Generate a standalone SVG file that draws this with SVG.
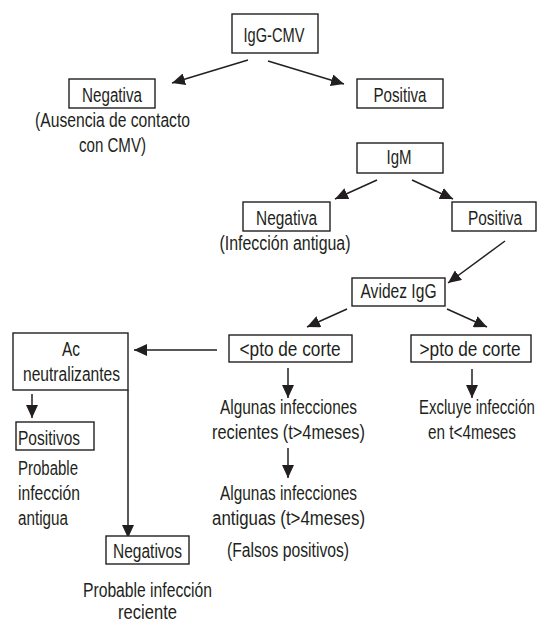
<svg xmlns="http://www.w3.org/2000/svg" width="537" height="622" viewBox="0 0 537 622">
<style>
.b{fill:#fff;stroke:#231f20;stroke-width:1.4}
.t{font-family:"Liberation Sans",Arial,sans-serif;font-size:21px;fill:#231f20;text-anchor:middle}
.l{text-anchor:start}
.c{stroke:#231f20;stroke-width:1.5;fill:none;marker-end:url(#a)}
</style>
<defs>
<marker id="a" markerUnits="userSpaceOnUse" markerWidth="14" markerHeight="12" refX="13" refY="6" orient="auto">
<path d="M0,0 L13,6 L0,12 z" fill="#231f20"/>
</marker>
</defs>
<g id="connectors">
<line class="c" x1="248" y1="60" x2="172" y2="83"/>
<line class="c" x1="268" y1="61" x2="344" y2="84"/>
<line class="c" x1="377" y1="180" x2="335" y2="199"/>
<line class="c" x1="412" y1="180" x2="453" y2="199"/>
<line class="c" x1="505" y1="241" x2="448" y2="283"/>
<line class="c" x1="347" y1="309" x2="307" y2="327"/>
<line class="c" x1="447" y1="309" x2="487" y2="327"/>
<line class="c" x1="217" y1="350" x2="134" y2="350"/>
<line class="c" x1="288" y1="368" x2="288" y2="398"/>
<line class="c" x1="288" y1="448" x2="288" y2="478"/>
<line class="c" x1="472" y1="369" x2="472" y2="398"/>
<line class="c" x1="32" y1="394" x2="32" y2="418"/>
<line class="c" x1="128" y1="390" x2="128" y2="538"/>
</g>
<g id="igg-cmv"><rect class="b" x="232" y="14" width="86" height="39"/><text class="t" transform="translate(274 42) scale(0.84 1)" textLength="72.6" lengthAdjust="spacingAndGlyphs">IgG-CMV</text></g>
<g id="negativa1"><rect class="b" x="69" y="79" width="86" height="29"/><text class="t" transform="translate(112 102) scale(0.84 1)" textLength="71.4" lengthAdjust="spacingAndGlyphs">Negativa</text>
<text class="t" transform="translate(112.5 127) scale(0.84 1)" textLength="184.5" lengthAdjust="spacingAndGlyphs">(Ausencia de contacto</text>
<text class="t" transform="translate(112.5 152) scale(0.84 1)" textLength="79.8" lengthAdjust="spacingAndGlyphs">con CMV)</text></g>
<g id="positiva1"><rect class="b" x="357" y="79" width="86" height="29"/><text class="t" transform="translate(400 102) scale(0.84 1)" textLength="63.1" lengthAdjust="spacingAndGlyphs">Positiva</text></g>
<g id="igm"><rect class="b" x="357" y="143" width="86" height="30"/><text class="t" transform="translate(399 164) scale(0.84 1)" textLength="29.8" lengthAdjust="spacingAndGlyphs">IgM</text></g>
<g id="negativa2"><rect class="b" x="243" y="202" width="87" height="29"/><text class="t" transform="translate(286.5 225) scale(0.84 1)" textLength="72.6" lengthAdjust="spacingAndGlyphs">Negativa</text>
<text class="t" transform="translate(285 250) scale(0.84 1)" textLength="156" lengthAdjust="spacingAndGlyphs">(Infección antigua)</text></g>
<g id="positiva2"><rect class="b" x="452" y="202" width="84" height="29"/><text class="t" transform="translate(495 225) scale(0.84 1)" textLength="64.3" lengthAdjust="spacingAndGlyphs">Positiva</text></g>
<g id="avidez"><rect class="b" x="352" y="278" width="93" height="28"/><text class="t" transform="translate(398.5 298) scale(0.84 1)" textLength="90.5" lengthAdjust="spacingAndGlyphs">Avidez IgG</text></g>
<g id="menor"><rect class="b" x="229" y="335" width="123" height="27"/><text class="t" transform="translate(290 356) scale(0.84 1)" textLength="120.2" lengthAdjust="spacingAndGlyphs">&lt;pto de corte</text>
<text class="t" transform="translate(288.5 414) scale(0.84 1)" textLength="163.1" lengthAdjust="spacingAndGlyphs">Algunas infecciones</text>
<text class="t" transform="translate(288.5 439) scale(0.84 1)" textLength="182.1" lengthAdjust="spacingAndGlyphs">recientes (t&gt;4meses)</text>
<text class="t" transform="translate(288.5 500) scale(0.84 1)" textLength="163.1" lengthAdjust="spacingAndGlyphs">Algunas infecciones</text>
<text class="t" transform="translate(288.5 525) scale(0.84 1)" textLength="182.1" lengthAdjust="spacingAndGlyphs">antiguas (t&gt;4meses)</text>
<text class="t" transform="translate(288 557) scale(0.84 1)" textLength="145.2" lengthAdjust="spacingAndGlyphs">(Falsos positivos)</text></g>
<g id="mayor"><rect class="b" x="411" y="335" width="120" height="27"/><text class="t" transform="translate(470 356) scale(0.84 1)" textLength="120.2" lengthAdjust="spacingAndGlyphs">&gt;pto de corte</text>
<text class="t l" transform="translate(419 414) scale(0.715 1)" textLength="162" lengthAdjust="spacingAndGlyphs">Excluye infección</text>
<text class="t" transform="translate(472 439) scale(0.84 1)" textLength="104.8" lengthAdjust="spacingAndGlyphs">en t&lt;4meses</text></g>
<g id="ac"><rect class="b" x="13" y="333" width="115" height="57"/><text class="t" transform="translate(71 356) scale(0.84 1)" textLength="21.4" lengthAdjust="spacingAndGlyphs">Ac</text>
<text class="t" transform="translate(71.5 381) scale(0.84 1)" textLength="115.5" lengthAdjust="spacingAndGlyphs">neutralizantes</text></g>
<g id="positivos"><rect class="b" x="16" y="422" width="78" height="28"/><text class="t l" transform="translate(18 445) scale(0.84 1)" textLength="73.8" lengthAdjust="spacingAndGlyphs">Positivos</text>
<text class="t l" transform="translate(18 475) scale(0.84 1)" textLength="71.4" lengthAdjust="spacingAndGlyphs">Probable</text>
<text class="t l" transform="translate(18 500) scale(0.84 1)" textLength="73.8" lengthAdjust="spacingAndGlyphs">infección</text>
<text class="t l" transform="translate(18 525) scale(0.84 1)" textLength="59.5" lengthAdjust="spacingAndGlyphs">antigua</text></g>
<g id="negativos"><rect class="b" x="106" y="536" width="83" height="28"/><text class="t" transform="translate(147.5 558) scale(0.84 1)" textLength="82.1" lengthAdjust="spacingAndGlyphs">Negativos</text>
<text class="t" transform="translate(147.5 597) scale(0.84 1)" textLength="153.6" lengthAdjust="spacingAndGlyphs">Probable infección</text>
<text class="t" transform="translate(147.5 619) scale(0.84 1)" textLength="70.2" lengthAdjust="spacingAndGlyphs">reciente</text></g>
</svg>
